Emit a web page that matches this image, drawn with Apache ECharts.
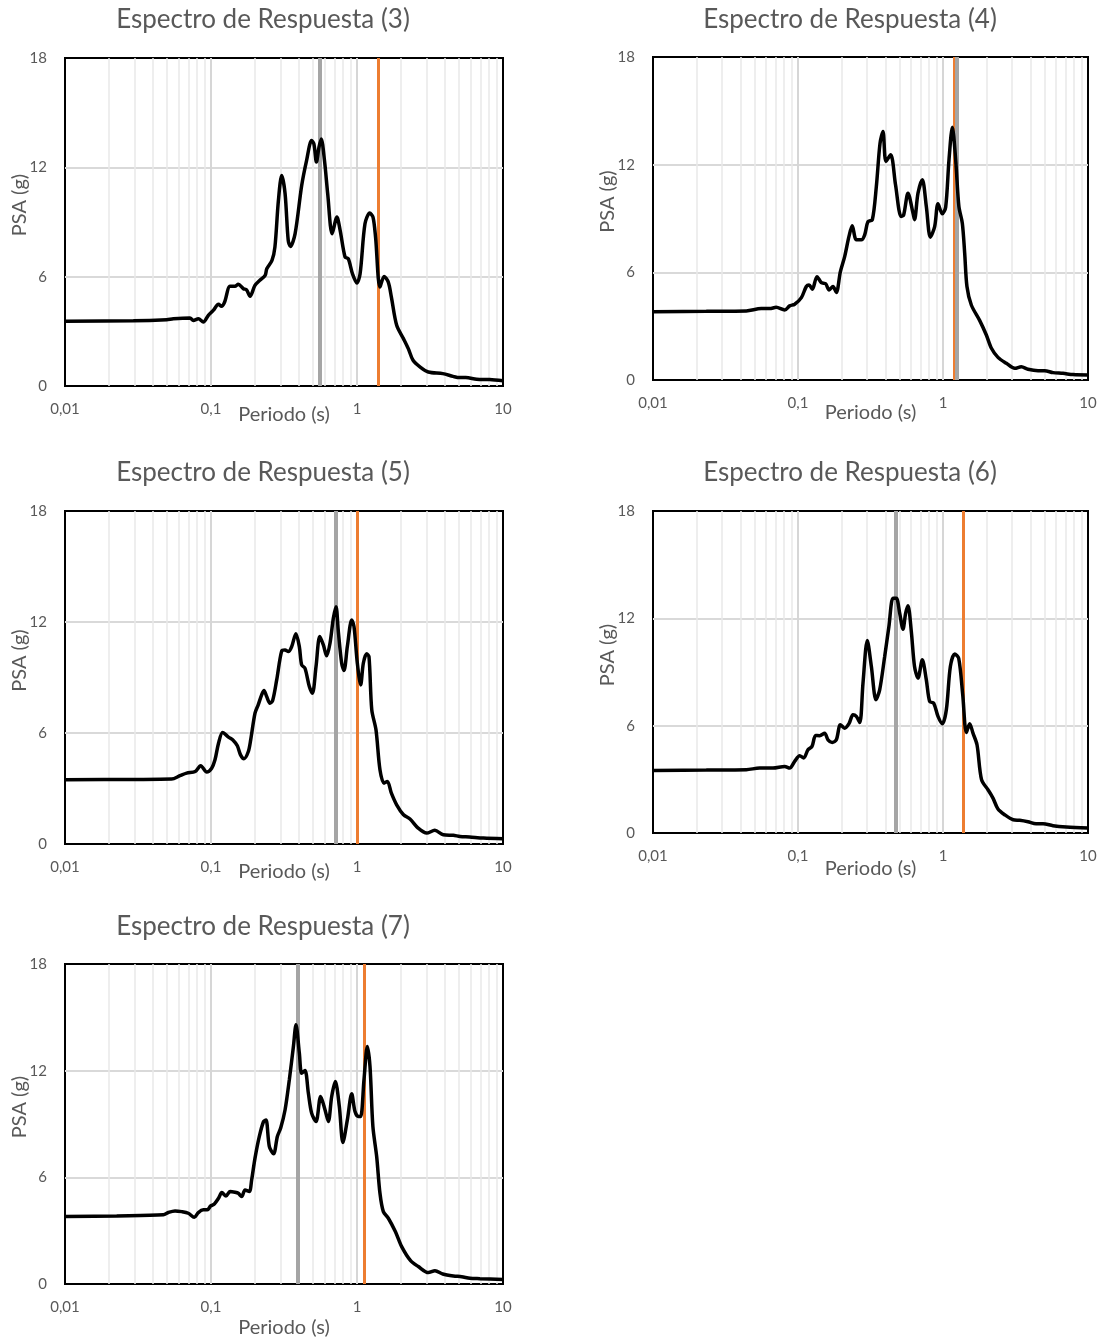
<!DOCTYPE html>
<html>
<head>
<meta charset="utf-8">
<script src="https://cdn.jsdelivr.net/npm/echarts@6/dist/echarts.min.js"></script>
<style>
    html, body { margin: 0; padding: 0; background: #fff; }
    #espectros { width: 1106px; height: 1342px; }
</style>
</head>
<body>
<div id="espectros"></div>
<script>
    // Espectros de respuesta: periodo (s) vs PSA (g)
    const titulos = ['Espectro de Respuesta (3)', 'Espectro de Respuesta (4)', 'Espectro de Respuesta (5)',
        'Espectro de Respuesta (6)', 'Espectro de Respuesta (7)'];

    const periodos3 = [0.01, 0.0294, 0.0497, 0.0552, 0.0718, 0.0757, 0.0819, 0.0886, 0.0959, 0.1036, 0.1126, 0.118, 0.124, 0.135, 0.146, 0.1537, 0.1667, 0.1752, 0.1852, 0.200, 0.216, 0.2348, 0.241, 0.2616, 0.274, 0.2895, 0.305, 0.3217, 0.338, 0.350, 0.3765, 0.418, 0.4517, 0.4888, 0.5067, 0.5275, 0.5491, 0.5689, 0.5987, 0.630, 0.676, 0.7284, 0.7665, 0.8283, 0.8717, 0.931, 0.998, 1.05, 1.134, 1.223, 1.287, 1.34, 1.436, 1.534, 1.638, 1.72, 1.87, 2.08, 2.246, 2.42, 2.71, 3.08, 3.87, 4.55, 5.03, 5.56, 6.6, 8.1, 10];
    const psa3 = [3.56, 3.58, 3.64, 3.69, 3.73, 3.60, 3.69, 3.51, 3.88, 4.15, 4.48, 4.37, 4.61, 5.47, 5.47, 5.58, 5.34, 5.28, 4.92, 5.52, 5.80, 6.07, 6.43, 6.89, 7.62, 10.18, 11.55, 10.55, 7.99, 7.66, 8.35, 11.0, 12.38, 13.47, 13.29, 12.29, 13.11, 13.56, 12.38, 10.55, 8.35, 9.27, 8.54, 7.08, 6.98, 6.16, 5.65, 6.16, 8.90, 9.49, 9.27, 8.17, 5.43, 6.01, 5.70, 4.88, 3.33, 2.60, 2.05, 1.41, 1.04, 0.77, 0.68, 0.53, 0.46, 0.46, 0.37, 0.35, 0.29];

    const periodos4 = [0.01, 0.0233, 0.044, 0.0558, 0.0638, 0.0707, 0.0809, 0.0876, 0.0948, 0.1055, 0.1141, 0.1191, 0.1256, 0.1351, 0.1449, 0.1552, 0.164, 0.1743, 0.1838, 0.196, 0.2098, 0.2247, 0.2366, 0.2525, 0.2734, 0.2883, 0.304, 0.3255, 0.3469, 0.368, 0.3857, 0.404, 0.4355, 0.4705, 0.5141, 0.5354, 0.5735, 0.621, 0.6362, 0.6723, 0.7201, 0.7674, 0.818, 0.876, 0.9236, 0.9895, 1.0433, 1.0998, 1.16, 1.223, 1.2872, 1.359, 1.411, 1.4628, 1.568, 1.7925, 1.99, 2.1574, 2.394, 2.734, 3.1258, 3.469, 3.857, 4.524, 5.025, 5.737, 6.723, 7.9, 10];
    const psa4 = [3.81, 3.83, 3.85, 3.98, 3.98, 4.05, 3.90, 4.13, 4.22, 4.59, 5.21, 5.30, 5.06, 5.76, 5.43, 5.36, 5.02, 5.21, 4.87, 6.04, 6.88, 8.0, 8.59, 7.81, 7.81, 8.09, 8.83, 8.93, 10.78, 13.2, 13.85, 12.18, 12.55, 10.88, 9.11, 9.20, 10.41, 9.30, 8.93, 10.41, 11.16, 9.67, 7.96, 8.55, 9.82, 9.26, 9.63, 12.27, 14.09, 12.27, 9.67, 8.74, 7.07, 5.21, 4.18, 3.31, 2.51, 1.77, 1.26, 0.93, 0.65, 0.74, 0.60, 0.52, 0.52, 0.41, 0.37, 0.30, 0.28];

    const periodos5 = [0.01, 0.0294, 0.0537, 0.0613, 0.0681, 0.078, 0.085, 0.0934, 0.1011, 0.1065, 0.1126, 0.1202, 0.1317, 0.1422, 0.1515, 0.1593, 0.1683, 0.1802, 0.187, 0.2002, 0.2105, 0.2223, 0.2307, 0.2406, 0.2533, 0.2645, 0.2818, 0.305, 0.3213, 0.3386, 0.3569, 0.3815, 0.4027, 0.4178, 0.4403, 0.4715, 0.495, 0.524, 0.556, 0.5882, 0.6198, 0.6532, 0.6885, 0.7182, 0.745, 0.7852, 0.8147, 0.8587, 0.92, 0.9539, 1.0053, 1.0595, 1.105, 1.165, 1.208, 1.2625, 1.349, 1.4365, 1.531, 1.614, 1.7197, 1.869, 2.0826, 2.307, 2.6223, 3.001, 3.4128, 3.902, 4.567, 5.077, 5.9, 7.335, 10];
    const psa5 = [3.47, 3.49, 3.51, 3.69, 3.83, 3.92, 4.23, 3.89, 4.10, 4.55, 5.45, 6.03, 5.78, 5.60, 5.31, 4.82, 4.61, 5.00, 5.63, 7.07, 7.52, 8.06, 8.30, 7.97, 7.61, 7.76, 8.87, 10.44, 10.49, 10.40, 10.67, 11.36, 10.67, 9.68, 9.50, 8.51, 8.15, 9.59, 11.21, 10.76, 10.17, 10.85, 12.20, 12.83, 11.48, 9.77, 9.38, 10.67, 12.11, 11.75, 9.77, 8.60, 9.77, 10.28, 10.13, 7.25, 6.17, 4.01, 3.29, 3.38, 2.75, 2.12, 1.58, 1.35, 0.86, 0.59, 0.74, 0.50, 0.47, 0.41, 0.38, 0.32, 0.29];

    const periodos6 = [0.01, 0.0233, 0.044, 0.0544, 0.0672, 0.0809, 0.0876, 0.0948, 0.1027, 0.1094, 0.1171, 0.1249, 0.1323, 0.1411, 0.1527, 0.161, 0.1722, 0.1838, 0.196, 0.2098, 0.2247, 0.2395, 0.2525, 0.2668, 0.2807, 0.3005, 0.3206, 0.3451, 0.3658, 0.3961, 0.4236, 0.452, 0.4766, 0.5025, 0.5298, 0.5527, 0.5735, 0.6047, 0.6362, 0.6723, 0.7201, 0.7674, 0.8091, 0.8623, 0.9237, 0.9895, 1.0545, 1.124, 1.204, 1.283, 1.368, 1.449, 1.527, 1.6098, 1.716, 1.8442, 2.043, 2.212, 2.394, 2.663, 3.0476, 3.379, 3.857, 4.3835, 4.895, 5.737, 7.09, 10];
    const psa6 = [3.50, 3.52, 3.54, 3.63, 3.63, 3.72, 3.63, 4.00, 4.32, 4.19, 4.65, 4.84, 5.45, 5.44, 5.58, 5.21, 5.06, 5.21, 6.05, 5.86, 6.11, 6.61, 6.52, 6.18, 8.38, 10.76, 9.31, 7.45, 8.00, 9.87, 11.54, 13.12, 13.12, 12.29, 11.39, 12.29, 12.70, 11.26, 9.31, 8.66, 9.68, 8.56, 7.35, 7.26, 6.52, 6.11, 6.89, 9.31, 10.01, 9.77, 7.73, 5.62, 6.11, 5.58, 4.93, 2.98, 2.42, 1.95, 1.34, 1.02, 0.74, 0.71, 0.63, 0.52, 0.52, 0.41, 0.34, 0.28];

    const periodos7 = [0.01, 0.0226, 0.0472, 0.051, 0.0567, 0.063, 0.0699, 0.0768, 0.0819, 0.0886, 0.0944, 0.0995, 0.1054, 0.1126, 0.1187, 0.1267, 0.135, 0.1459, 0.1539, 0.1622, 0.171, 0.183, 0.1899, 0.2002, 0.2143, 0.2291, 0.2381, 0.251, 0.2685, 0.2848, 0.3001, 0.3217, 0.344, 0.3668, 0.3821, 0.4027, 0.4178, 0.4403, 0.4642, 0.4888, 0.524, 0.5637, 0.6037, 0.6364, 0.6709, 0.7103, 0.7568, 0.8007, 0.8587, 0.92, 0.969, 1.0212, 1.0595, 1.1166, 1.1766, 1.2274, 1.2847, 1.3637, 1.4365, 1.5151, 1.6392, 1.8307, 2.023, 2.3281, 2.6309, 3.0806, 3.4212, 3.8693, 4.5755, 5.2118, 5.943, 6.958, 10];
    const psa7 = [3.79, 3.83, 3.89, 4.02, 4.11, 4.07, 3.98, 3.75, 4.02, 4.17, 4.17, 4.39, 4.50, 4.82, 5.14, 4.95, 5.20, 5.16, 5.10, 4.92, 5.29, 5.20, 5.86, 7.08, 8.30, 9.14, 9.23, 7.73, 7.32, 8.30, 8.77, 9.80, 11.49, 13.36, 14.58, 12.99, 11.86, 12.01, 10.74, 9.61, 9.14, 10.55, 9.80, 9.14, 10.55, 11.39, 9.98, 7.96, 9.23, 10.70, 9.70, 9.42, 9.42, 11.49, 13.36, 12.24, 8.86, 7.17, 5.10, 4.07, 3.70, 2.95, 2.10, 1.31, 0.98, 0.64, 0.75, 0.56, 0.45, 0.41, 0.32, 0.30, 0.26];

    // periodos marcados con lineas verticales (gris y naranja)
    const lineaGris = [0.564, 1.24, 0.718, 0.467, 0.386];
    const lineaNaranja = [1.40, 1.19, 1.01, 1.37, 1.12];

    const periodos = [periodos3, periodos4, periodos5, periodos6, periodos7];
    const psa = [psa3, psa4, psa5, psa6, psa7];

    // posicion de cada grafico en la pagina
    const paneles = [
        {left: 65, top: 58, width: 438, height: 328, tx: 263, ty: 7, gapX: 19},
        {left: 653, top: 57, width: 435, height: 323, tx: 850, ty: 7, gapX: 23},
        {left: 65, top: 511, width: 438, height: 333, tx: 263, ty: 460, gapX: 18},
        {left: 653, top: 511, width: 435, height: 322, tx: 850, ty: 460, gapX: 26},
        {left: 65, top: 964, width: 438, height: 320, tx: 263, ty: 914, gapX: 34}
    ];

    const fuente = 'Lato, "Open Sans", sans-serif';
    const gris = '#595959';

    // lineas secundarias de la escala logaritmica (2..9 en cada decada)
    const menores = [];
    [0.01, 0.1, 1].forEach(d => {
        for (let k = 2; k <= 9; k++) menores.push({xAxis: +(d * k).toPrecision(3)});
    });

    const grid = [], xAxis = [], yAxis = [], series = [], title = [];
    paneles.forEach((p, i) => {
        title.push({
            text: titulos[i], left: p.tx, top: p.ty, textAlign: 'center', padding: 0,
            textStyle: {color: gris, fontSize: 26, fontWeight: 'normal', fontFamily: fuente}
        });
        grid.push({
            left: p.left, top: p.top, width: p.width, height: p.height,
            show: true, borderColor: '#000', borderWidth: 2
        });
        xAxis.push({
            gridIndex: i, type: 'log', logBase: 10, min: 0.01, max: 10,
            name: 'Periodo (s)', nameLocation: 'middle', nameGap: p.gapX, nameMoveOverlap: false,
            nameTextStyle: {color: gris, fontSize: 20, fontFamily: fuente},
            axisLine: {show: false}, axisTick: {show: false},
            axisLabel: {
                color: gris, fontSize: 15, margin: 16, fontFamily: fuente,
                formatter: v => String(+v.toPrecision(3)).replace('.', ',')
            },
            splitLine: {show: true, showMinLine: false, showMaxLine: false, lineStyle: {color: '#d6d6d6', width: 2}}
        });
        yAxis.push({
            gridIndex: i, type: 'value', min: 0, max: 18, interval: 6,
            name: 'PSA (g)', nameLocation: 'middle', nameGap: 35, nameMoveOverlap: false,
            nameTextStyle: {color: gris, fontSize: 20, fontFamily: fuente, padding: [0, 0, 0, 34]},
            axisLine: {show: false}, axisTick: {show: false},
            axisLabel: {color: gris, fontSize: 15, margin: 18, fontFamily: fuente},
            splitLine: {show: true, showMinLine: false, showMaxLine: false, lineStyle: {color: '#d9d9d9', width: 2}}
        });
        series.push({
            type: 'line', xAxisIndex: i, yAxisIndex: i, data: [], silent: true, z: 1,
            markLine: {
                silent: true, symbol: ['none', 'none'], label: {show: false}, animation: false,
                lineStyle: {color: '#e8e8e8', width: 1.5, type: 'solid'},
                data: menores
            }
        });
        series.push({
            type: 'line', xAxisIndex: i, yAxisIndex: i, data: [], silent: true, z: 2,
            markLine: {
                silent: true, symbol: ['none', 'none'], label: {show: false}, animation: false,
                data: [
                    {xAxis: lineaNaranja[i], lineStyle: {color: '#ed7d31', width: 3, type: 'solid'}},
                    {xAxis: lineaGris[i], lineStyle: {color: '#a5a5a5', width: 4, type: 'solid'}}
                ]
            }
        });
        series.push({
            type: 'line', xAxisIndex: i, yAxisIndex: i, z: 5,
            data: periodos[i].map((t, k) => [t, psa[i][k]]),
            smooth: 0.3, showSymbol: false, silent: true,
            lineStyle: {color: '#000', width: 3.5}
        });
    });

    const chart = echarts.init(document.getElementById('espectros'));
    chart.setOption({animation: false, title, grid, xAxis, yAxis, series});
</script>
</body>
</html>
